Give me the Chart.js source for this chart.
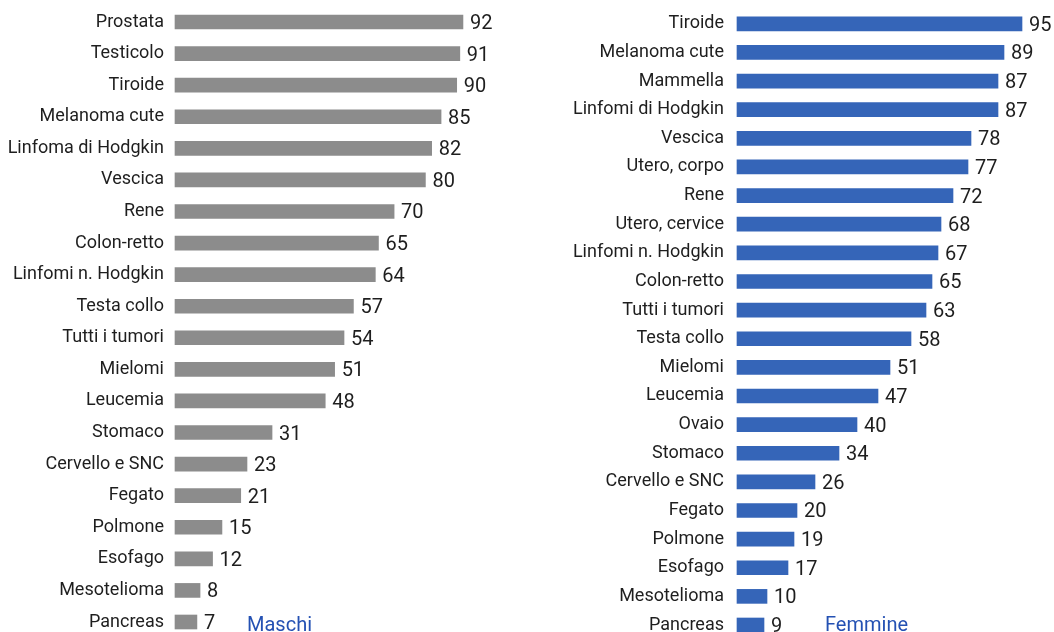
<!DOCTYPE html>
<html><head><meta charset="utf-8">
<script src="https://cdn.jsdelivr.net/npm/chart.js@4"></script>
<style>
html,body{margin:0;padding:0;background:#fff;overflow:hidden;width:1054px;height:632px;}
.c{position:absolute;top:0;height:660px;}
#l{left:0;width:527px;}
#r{left:527px;width:527px;}
.tag{position:absolute;font:20px Roboto, sans-serif;color:#2451b3;top:612px;}
</style></head>
<body>
<div class="c" id="l"><canvas id="cl"></canvas></div>
<div class="c" id="r"><canvas id="cr"></canvas></div>
<div class="tag" style="left:247px">Maschi</div>
<div class="tag" style="left:825px">Femmine</div>
<script>
const maleCategories = ["Prostata","Testicolo","Tiroide","Melanoma cute","Linfoma di Hodgkin","Vescica","Rene","Colon-retto","Linfomi n. Hodgkin","Testa collo","Tutti i tumori","Mielomi","Leucemia","Stomaco","Cervello e SNC","Fegato","Polmone","Esofago","Mesotelioma","Pancreas"];
const maleValues = [92,91,90,85,82,80,70,65,64,57,54,51,48,31,23,21,15,12,8,7];
const femaleCategories = ["Tiroide","Melanoma cute","Mammella","Linfomi di Hodgkin","Vescica","Utero, corpo","Rene","Utero, cervice","Linfomi n. Hodgkin","Colon-retto","Tutti i tumori","Testa collo","Mielomi","Leucemia","Ovaio","Stomaco","Cervello e SNC","Fegato","Polmone","Esofago","Mesotelioma","Pancreas"];
const femaleValues = [95,89,87,87,78,77,72,68,67,65,63,58,51,47,40,34,26,20,19,17,10,9];

const valueLabels = {
  id: 'valueLabels',
  afterDatasetsDraw(chart) {
    const ctx = chart.ctx;
    const meta = chart.getDatasetMeta(0);
    const data = chart.data.datasets[0].data;
    ctx.save();
    ctx.font = '20px Roboto, sans-serif';
    ctx.fillStyle = '#1e1e1e';
    ctx.textAlign = 'left';
    ctx.textBaseline = 'middle';
    meta.data.forEach((bar, i) => {
      ctx.fillText(String(data[i]), bar.x + 7, bar.y + 2);
    });
    ctx.restore();
  }
};

function makeChart(id, labels, values, color, axisWidth, tickPad, pad) {
  return new Chart(document.getElementById(id), {
    type: 'bar',
    data: { labels: labels, datasets: [{ data: values, backgroundColor: color, barThickness: 14, clip: false }] },
    options: {
      indexAxis: 'y',
      responsive: true,
      maintainAspectRatio: false,
      animation: false,
      layout: { padding: pad },
      plugins: { legend: { display: false }, tooltip: { enabled: false } },
      scales: {
        x: { display: false, min: 0, max: 100 },
        y: {
          offset: false,
          grid: { display: false, drawTicks: false },
          border: { display: false },
          ticks: { color: '#1e1e1e', font: { family: 'Roboto', size: 18 }, padding: tickPad, autoSkip: false },
          afterFit(scale) { scale.width = axisWidth; }
        }
      }
    },
    plugins: [valueLabels]
  });
}

makeChart('cl', maleCategories, maleValues, '#8c8c8c', 175, 11, { top: 22, bottom: 38, left: 0, right: 39 });
makeChart('cr', femaleCategories, femaleValues, '#3565b8', 210, 13, { top: 22, bottom: 35, left: 0, right: 17 });
</script>
</body></html>
